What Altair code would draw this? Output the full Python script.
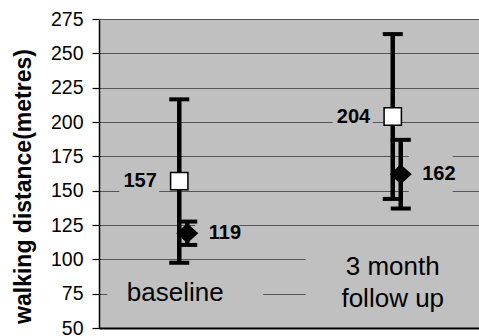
import altair as alt
import pandas as pd

# ---- data ----
categories = ["baseline", "3 month follow up"]
category_text = ["baseline", "3 month\nfollow up"]

square_mean = [157, 204]
square_low = [97.5, 144]
square_high = [216.5, 264]

diamond_mean = [119, 162]
diamond_low = [110.5, 137]
diamond_high = [127.5, 187]

y_ticks = [50, 75, 100, 125, 150, 175, 200, 225, 250, 275]

sq = pd.DataFrame({"cat": categories, "mean": square_mean, "low": square_low, "high": square_high})
dm = pd.DataFrame({"cat": categories, "mean": diamond_mean, "low": diamond_low, "high": diamond_high})
cats = pd.DataFrame({"cat": categories, "label": category_text})

FONT = "Liberation Sans"
BG = "#c0c0c0"

xscale = alt.Scale(type="point", domain=categories, padding=0.39, align=0.482)
xaxis = alt.Axis(title=None, labels=False, ticks=False, grid=False,
                 domainColor="black", domainWidth=2)
yscale = alt.Scale(domain=[50, 275], nice=False, zero=False)
yaxis = alt.Axis(values=y_ticks, title="walking distance(metres)",
                 titleFont=FONT, titleFontSize=23, titleFontWeight="bold",
                 titleColor="black", titleX=-64, titleY=167,
                 titleBaseline="bottom", titleAlign="center", titleAngle=270,
                 labelFont=FONT, labelFontSize=19.5, labelColor="black",
                 labelPadding=9, tickSize=7, tickColor="black", tickWidth=1.2,
                 domainColor="black", domainWidth=1.5,
                 grid=True, gridColor="#555555", gridWidth=1.2)

X = alt.X("cat:N", scale=xscale, axis=xaxis, sort=categories)
Y = lambda f: alt.Y(f"{f}:Q", scale=yscale, axis=yaxis)

def box(w, h):
    return f"M-1,-{h / w:.4f}L1,-{h / w:.4f}L1,{h / w:.4f}L-1,{h / w:.4f}Z"

cap_shape = "M-1,-0.2L1,-0.2L1,0.2L-1,0.2Z"
diamond_shape = "M-1.1,0L0,-1L1.1,0L0,1Z"
D_OFF = 8

base_cat = alt.Chart(cats).encode(x=X)
mask_baseline = base_cat.transform_filter(alt.datum.cat == categories[0]).mark_point(
    shape=box(156, 40), size=156 ** 2, filled=True, fill=BG, strokeWidth=0, opacity=1,
    xOffset=6).encode(y=alt.value(274))
mask_follow = base_cat.transform_filter(alt.datum.cat == categories[1]).mark_point(
    shape=box(174, 58), size=174 ** 2, filled=True, fill=BG, strokeWidth=0, opacity=1,
    xOffset=0).encode(y=alt.value(257))
text_baseline = base_cat.transform_filter(alt.datum.cat == categories[0]).mark_text(
    font=FONT, fontSize=26, color="black", baseline="middle", align="center",
    dx=-4).encode(y=alt.value(274), text="label:N")
text_follow = base_cat.transform_filter(alt.datum.cat == categories[1]).mark_text(
    font=FONT, fontSize=26, color="black", baseline="middle", align="center",
    lineBreak="\n", lineHeight=32, dx=0).encode(y=alt.value(247.5), text="label:N")

# value label masks
sq_base = alt.Chart(sq).encode(x=X)
dm_base = alt.Chart(dm).encode(x=X)

sq_mask = sq_base.mark_point(shape=box(40, 38), size=1600, filled=True, fill=BG,
                             strokeWidth=0, opacity=1, xOffset=-40).encode(y=Y("mean"))
dm_mask = dm_base.mark_point(shape=box(44, 38), size=44 ** 2, filled=True, fill=BG,
                             strokeWidth=0, opacity=1, xOffset=38).encode(y=Y("mean"))

sq_rule = sq_base.mark_rule(color="black", strokeWidth=4.5).encode(y=Y("low"), y2="high:Q")
dm_rule = dm_base.mark_rule(color="black", strokeWidth=4.5, xOffset=D_OFF).encode(y=Y("low"), y2="high:Q")

def caps(base, field, off):
    return base.mark_point(shape=cap_shape, size=400, filled=True, fill="black",
                           strokeWidth=0, opacity=1, xOffset=off).encode(y=Y(field))

sq_pts = sq_base.mark_point(shape="square", size=300, filled=True, fill="white",
                            stroke="black", strokeWidth=1.5, opacity=1).encode(y=Y("mean"))
dm_pts = dm_base.mark_point(shape=diamond_shape, size=400, filled=True, fill="black",
                            strokeWidth=0, opacity=1, xOffset=D_OFF).encode(y=Y("mean"))

sq_txt = sq_base.mark_text(font=FONT, fontSize=20, fontWeight="bold", color="black",
                           align="right", baseline="middle", dx=-22.5).encode(
    y=Y("mean"), text="mean:Q")
dm_txt = dm_base.mark_text(font=FONT, fontSize=20, fontWeight="bold", color="black",
                           align="left", baseline="middle", dx=29.5).encode(
    y=Y("mean"), text="mean:Q")

chart = alt.layer(
    mask_baseline, mask_follow, text_baseline, text_follow,
    sq_mask, dm_mask,
    sq_rule, caps(sq_base, "low", 0), caps(sq_base, "high", 0),
    dm_rule, caps(dm_base, "low", D_OFF), caps(dm_base, "high", D_OFF),
    dm_pts, sq_pts, sq_txt, dm_txt,
).properties(
    width=380, height=309,
    autosize=alt.AutoSizeParams(type="none"),
    padding={"left": 99, "top": 19, "right": 0, "bottom": 8},
    background="white",
).configure_view(fill=BG, stroke="transparent")

chart.save("out.html", embed_options={"renderer": "svg", "actions": False})
